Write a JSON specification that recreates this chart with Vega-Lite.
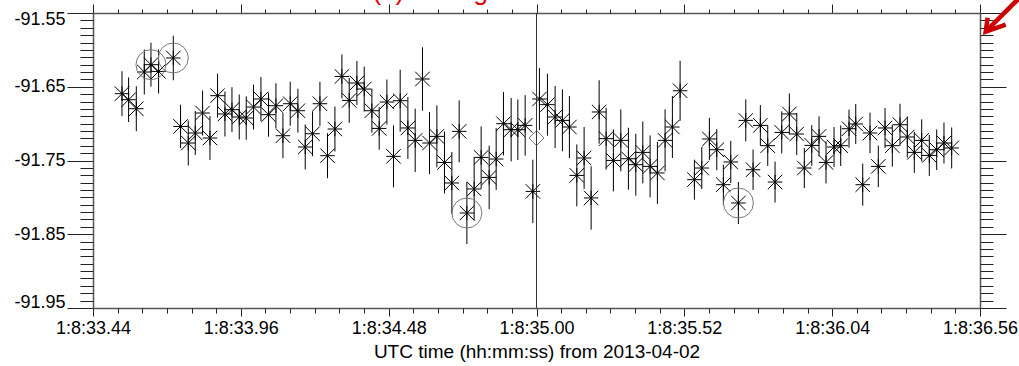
{
  "$schema": "https://vega.github.io/schema/vega-lite/v6.json",
  "width": 887,
  "height": 295,
  "autosize": {"type": "none"},
  "padding": {"left": 93, "top": 13, "right": 39, "bottom": 58},
  "background": "white",
  "config": {
    "view": {"stroke": null},
    "axis": {"grid": false, "labelFont": "Liberation Sans", "titleFont": "Liberation Sans", "labelColor": "#000", "titleColor": "#000", "tickColor": "#222", "domainColor": "#555", "domainWidth": 1.5, "labelOverlap": false}
  },
  "datasets": {
    "pts": [
      {"t":33.5420,"v":-91.6594,"lo":-91.6899,"hi":-91.6289},
      {"t":33.5652,"v":-91.6676,"lo":-91.6978,"hi":-91.6374},
      {"t":33.5923,"v":-91.6798,"lo":-91.7103,"hi":-91.6493},
      {"t":33.6204,"v":-91.6300,"lo":-91.6605,"hi":-91.5995},
      {"t":33.6439,"v":-91.6201,"lo":-91.6499,"hi":-91.5903},
      {"t":33.6707,"v":-91.6292,"lo":-91.6590,"hi":-91.5994},
      {"t":33.7224,"v":-91.6110,"lo":-91.6412,"hi":-91.5808},
      {"t":33.7480,"v":-91.7038,"lo":-91.7332,"hi":-91.6744},
      {"t":33.7751,"v":-91.7263,"lo":-91.7568,"hi":-91.6958},
      {"t":33.7997,"v":-91.7127,"lo":-91.7425,"hi":-91.6829},
      {"t":33.8254,"v":-91.6856,"lo":-91.7161,"hi":-91.6551},
      {"t":33.8514,"v":-91.7195,"lo":-91.7493,"hi":-91.6897},
      {"t":33.8781,"v":-91.6621,"lo":-91.6919,"hi":-91.6323},
      {"t":33.9041,"v":-91.6869,"lo":-91.7174,"hi":-91.6564},
      {"t":33.9288,"v":-91.6811,"lo":-91.7116,"hi":-91.6506},
      {"t":33.9544,"v":-91.6910,"lo":-91.7215,"hi":-91.6605},
      {"t":33.9790,"v":-91.6924,"lo":-91.7218,"hi":-91.6630},
      {"t":34.0047,"v":-91.6775,"lo":-91.7080,"hi":-91.6470},
      {"t":34.0307,"v":-91.6666,"lo":-91.6964,"hi":-91.6368},
      {"t":34.0574,"v":-91.6879,"lo":-91.7177,"hi":-91.6581},
      {"t":34.0835,"v":-91.6757,"lo":-91.7062,"hi":-91.6452},
      {"t":34.1081,"v":-91.7164,"lo":-91.7469,"hi":-91.6859},
      {"t":34.1337,"v":-91.6730,"lo":-91.7028,"hi":-91.6432},
      {"t":34.1608,"v":-91.6825,"lo":-91.7123,"hi":-91.6527},
      {"t":34.1865,"v":-91.7317,"lo":-91.7622,"hi":-91.7012},
      {"t":34.2122,"v":-91.7137,"lo":-91.7442,"hi":-91.6832},
      {"t":34.2382,"v":-91.6730,"lo":-91.7028,"hi":-91.6432},
      {"t":34.2649,"v":-91.7435,"lo":-91.7740,"hi":-91.7130},
      {"t":34.2909,"v":-91.7073,"lo":-91.7378,"hi":-91.6768},
      {"t":34.3155,"v":-91.6360,"lo":-91.6658,"hi":-91.6062},
      {"t":34.3412,"v":-91.6685,"lo":-91.6990,"hi":-91.6380},
      {"t":34.3683,"v":-91.6449,"lo":-91.6747,"hi":-91.6151},
      {"t":34.3940,"v":-91.6531,"lo":-91.6836,"hi":-91.6226},
      {"t":34.4210,"v":-91.6825,"lo":-91.7123,"hi":-91.6527},
      {"t":34.4467,"v":-91.7065,"lo":-91.7354,"hi":-91.6776},
      {"t":34.4738,"v":-91.6707,"lo":-91.7012,"hi":-91.6402},
      {"t":34.4970,"v":-91.7444,"lo":-91.7864,"hi":-91.7024},
      {"t":34.5205,"v":-91.6689,"lo":-91.7109,"hi":-91.6269},
      {"t":34.5476,"v":-91.7059,"lo":-91.7479,"hi":-91.6639},
      {"t":34.5733,"v":-91.7227,"lo":-91.7657,"hi":-91.6797},
      {"t":34.5989,"v":-91.6395,"lo":-91.6825,"hi":-91.5965},
      {"t":34.6236,"v":-91.7263,"lo":-91.7683,"hi":-91.6843},
      {"t":34.6496,"v":-91.7173,"lo":-91.7593,"hi":-91.6753},
      {"t":34.6763,"v":-91.7526,"lo":-91.7946,"hi":-91.7106},
      {"t":34.7023,"v":-91.7805,"lo":-91.8225,"hi":-91.7385},
      {"t":34.7280,"v":-91.7105,"lo":-91.7525,"hi":-91.6685},
      {"t":34.7551,"v":-91.8212,"lo":-91.8632,"hi":-91.7792},
      {"t":34.7807,"v":-91.7886,"lo":-91.8316,"hi":-91.7456},
      {"t":34.8053,"v":-91.7458,"lo":-91.7878,"hi":-91.7038},
      {"t":34.8335,"v":-91.7729,"lo":-91.8159,"hi":-91.7299},
      {"t":34.8581,"v":-91.7480,"lo":-91.7900,"hi":-91.7060},
      {"t":34.8838,"v":-91.7001,"lo":-91.7431,"hi":-91.6571},
      {"t":34.9108,"v":-91.7082,"lo":-91.7512,"hi":-91.6652},
      {"t":34.9344,"v":-91.7082,"lo":-91.7492,"hi":-91.6672},
      {"t":34.9601,"v":-91.7024,"lo":-91.7434,"hi":-91.6614},
      {"t":34.9871,"v":-91.7919,"lo":-91.8349,"hi":-91.7489},
      {"t":35.0103,"v":-91.6666,"lo":-91.7086,"hi":-91.6246},
      {"t":35.0385,"v":-91.6743,"lo":-91.7163,"hi":-91.6323},
      {"t":35.0655,"v":-91.6910,"lo":-91.7330,"hi":-91.6490},
      {"t":35.0912,"v":-91.6956,"lo":-91.7376,"hi":-91.6536},
      {"t":35.1158,"v":-91.7046,"lo":-91.7466,"hi":-91.6626},
      {"t":35.1418,"v":-91.7702,"lo":-91.8122,"hi":-91.7282},
      {"t":35.1675,"v":-91.7466,"lo":-91.7886,"hi":-91.7046},
      {"t":35.1921,"v":-91.8008,"lo":-91.8438,"hi":-91.7578},
      {"t":35.2203,"v":-91.6842,"lo":-91.7272,"hi":-91.6412},
      {"t":35.2449,"v":-91.7204,"lo":-91.7624,"hi":-91.6784},
      {"t":35.2705,"v":-91.7499,"lo":-91.7919,"hi":-91.7079},
      {"t":35.2966,"v":-91.7227,"lo":-91.7647,"hi":-91.6807},
      {"t":35.3233,"v":-91.7476,"lo":-91.7896,"hi":-91.7056},
      {"t":35.3493,"v":-91.7557,"lo":-91.7977,"hi":-91.7137},
      {"t":35.3739,"v":-91.7390,"lo":-91.7810,"hi":-91.6970},
      {"t":35.3996,"v":-91.7580,"lo":-91.8000,"hi":-91.7160},
      {"t":35.4253,"v":-91.7669,"lo":-91.8089,"hi":-91.7249},
      {"t":35.4523,"v":-91.7227,"lo":-91.7647,"hi":-91.6807},
      {"t":35.4780,"v":-91.7046,"lo":-91.7466,"hi":-91.6626},
      {"t":35.5051,"v":-91.6554,"lo":-91.6961,"hi":-91.6147},
      {"t":35.5554,"v":-91.7760,"lo":-91.8031,"hi":-91.7489},
      {"t":35.5814,"v":-91.7602,"lo":-91.7887,"hi":-91.7317},
      {"t":35.6081,"v":-91.7208,"lo":-91.7493,"hi":-91.6923},
      {"t":35.6341,"v":-91.7354,"lo":-91.7632,"hi":-91.7076},
      {"t":35.6573,"v":-91.7828,"lo":-91.8099,"hi":-91.7557},
      {"t":35.6833,"v":-91.7520,"lo":-91.7805,"hi":-91.7235},
      {"t":35.7101,"v":-91.8076,"lo":-91.8361,"hi":-91.7791},
      {"t":35.7361,"v":-91.6956,"lo":-91.7241,"hi":-91.6671},
      {"t":35.7618,"v":-91.7625,"lo":-91.7900,"hi":-91.7350},
      {"t":35.7874,"v":-91.7024,"lo":-91.7299,"hi":-91.6749},
      {"t":35.8134,"v":-91.7299,"lo":-91.7574,"hi":-91.7024},
      {"t":35.8391,"v":-91.7792,"lo":-91.8070,"hi":-91.7514},
      {"t":35.8627,"v":-91.7119,"lo":-91.7404,"hi":-91.6834},
      {"t":35.8894,"v":-91.6869,"lo":-91.7147,"hi":-91.6591},
      {"t":35.9154,"v":-91.7141,"lo":-91.7426,"hi":-91.6856},
      {"t":35.9421,"v":-91.7602,"lo":-91.7873,"hi":-91.7331},
      {"t":35.9682,"v":-91.7295,"lo":-91.7570,"hi":-91.7020},
      {"t":35.9938,"v":-91.7173,"lo":-91.7444,"hi":-91.6902},
      {"t":36.0184,"v":-91.7526,"lo":-91.7811,"hi":-91.7241},
      {"t":36.0466,"v":-91.7317,"lo":-91.7588,"hi":-91.7046},
      {"t":36.0701,"v":-91.7299,"lo":-91.7574,"hi":-91.7024},
      {"t":36.0993,"v":-91.7069,"lo":-91.7327,"hi":-91.6811},
      {"t":36.1229,"v":-91.7005,"lo":-91.7276,"hi":-91.6734},
      {"t":36.1475,"v":-91.7828,"lo":-91.8113,"hi":-91.7543},
      {"t":36.1731,"v":-91.7127,"lo":-91.7402,"hi":-91.6852},
      {"t":36.2023,"v":-91.7580,"lo":-91.7861,"hi":-91.7299},
      {"t":36.2259,"v":-91.7059,"lo":-91.7330,"hi":-91.6788},
      {"t":36.2516,"v":-91.7299,"lo":-91.7584,"hi":-91.7014},
      {"t":36.2786,"v":-91.7015,"lo":-91.7300,"hi":-91.6730},
      {"t":36.3043,"v":-91.7181,"lo":-91.7459,"hi":-91.6903},
      {"t":36.3289,"v":-91.7390,"lo":-91.7668,"hi":-91.7112},
      {"t":36.3549,"v":-91.7227,"lo":-91.7512,"hi":-91.6942},
      {"t":36.3817,"v":-91.7431,"lo":-91.7709,"hi":-91.7153},
      {"t":36.4077,"v":-91.7354,"lo":-91.7629,"hi":-91.7079},
      {"t":36.4333,"v":-91.7263,"lo":-91.7541,"hi":-91.6985},
      {"t":36.4604,"v":-91.7330,"lo":-91.7608,"hi":-91.7052}
    ],
    "circ": [
      {"t":33.6439,"v":-91.6201},
      {"t":33.7224,"v":-91.6110},
      {"t":34.7551,"v":-91.8212},
      {"t":35.7101,"v":-91.8076}
    ],
    "dia": [
      {"t":35.0,"v":-91.7195}
    ]
  },
  "resolve": {"axis": {"x": "independent", "y": "independent"}},
  "layer": [
    {
      "data": {"name": "pts"},
      "mark": {"type": "rule", "color": "#000", "strokeWidth": 1},
      "encoding": {
        "x": {"field": "t", "type": "quantitative", "scale": {"domain": [33.44, 36.56], "nice": false, "zero": false},
          "axis": {"orient": "bottom", "values": [33.44, 33.96, 34.48, 35.0, 35.52, 36.04, 36.56], "labelExpr": "'1:8:' + format(datum.value, '.2f')", "tickSize": 8, "labelPadding": 3, "labelFlush": false, "labelFontSize": 18, "title": "UTC time (hh:mm:ss) from 2013-04-02", "titleFontSize": 19, "titleFontWeight": "normal", "titlePadding": 5}},
        "y": {"field": "lo", "type": "quantitative", "scale": {"domain": [-91.95, -91.55], "nice": false, "zero": false},
          "axis": {"orient": "left", "values": [-91.95, -91.85, -91.75, -91.65, -91.55], "labelExpr": "'-' + format(-datum.value, '.2f')", "tickSize": 26, "labelPadding": 2, "labelFlush": true, "labelFlushOffset": 3, "labelFontSize": 18, "title": null}},
        "y2": {"field": "hi"}
      }
    },
    {
      "data": {"name": "pts"},
      "mark": {"type": "point", "shape": "M-1,0L1,0M0,-1L0,1M-1,-1L1,1M-1,1L1,-1", "size": 210, "filled": false, "color": "#000", "strokeWidth": 1, "opacity": 1},
      "encoding": {
        "x": {"field": "t", "type": "quantitative", "scale": {"domain": [33.44, 36.56], "nice": false, "zero": false},
          "axis": {"orient": "bottom", "values": [33.52667,33.61333,33.7,33.78667,33.87333,34.04667,34.13333,34.22,34.30667,34.39333,34.56667,34.65333,34.74,34.82667,34.91333,35.08667,35.17333,35.26,35.34667,35.43333,35.60667,35.69333,35.78,35.86667,35.95333,36.12667,36.21333,36.3,36.38667,36.47333], "tickSize": 5, "labels": false, "domain": false, "title": null}},
        "y": {"field": "v", "type": "quantitative", "scale": {"domain": [-91.95, -91.55], "nice": false, "zero": false},
          "axis": {"orient": "left", "values": [-91.94,-91.93,-91.92,-91.91,-91.90,-91.89,-91.88,-91.87,-91.86,-91.84,-91.83,-91.82,-91.81,-91.80,-91.79,-91.78,-91.77,-91.76,-91.74,-91.73,-91.72,-91.71,-91.70,-91.69,-91.68,-91.67,-91.66,-91.64,-91.63,-91.62,-91.61,-91.60,-91.59,-91.58,-91.57,-91.56], "tickSize": 13, "labels": false, "domain": false, "title": null}}
      }
    },
    {
      "data": {"name": "circ"},
      "mark": {"type": "point", "shape": "circle", "size": 900, "filled": false, "color": "#777", "strokeWidth": 1, "opacity": 1},
      "encoding": {
        "x": {"field": "t", "type": "quantitative", "scale": {"domain": [33.44, 36.56], "nice": false, "zero": false},
          "axis": {"orient": "top", "values": [33.44, 33.96, 34.48, 35.0, 35.52, 36.04, 36.56], "tickSize": 9, "labels": false, "title": null}},
        "y": {"field": "v", "type": "quantitative", "scale": {"domain": [-91.95, -91.55], "nice": false, "zero": false},
          "axis": {"orient": "right", "values": [-91.95, -91.85, -91.75, -91.65, -91.55], "tickSize": 26, "labels": false, "title": null}}
      }
    },
    {
      "data": {"name": "dia"},
      "mark": {"type": "point", "shape": "diamond", "size": 225, "filled": false, "color": "#777", "strokeWidth": 1, "opacity": 1},
      "encoding": {
        "x": {"field": "t", "type": "quantitative", "scale": {"domain": [33.44, 36.56], "nice": false, "zero": false},
          "axis": {"orient": "top", "values": [33.52667,33.61333,33.7,33.78667,33.87333,34.04667,34.13333,34.22,34.30667,34.39333,34.56667,34.65333,34.74,34.82667,34.91333,35.08667,35.17333,35.26,35.34667,35.43333,35.60667,35.69333,35.78,35.86667,35.95333,36.12667,36.21333,36.3,36.38667,36.47333], "tickSize": 4, "labels": false, "domain": false, "title": null}},
        "y": {"field": "v", "type": "quantitative", "scale": {"domain": [-91.95, -91.55], "nice": false, "zero": false},
          "axis": {"orient": "right", "values": [-91.94,-91.93,-91.92,-91.91,-91.90,-91.89,-91.88,-91.87,-91.86,-91.84,-91.83,-91.82,-91.81,-91.80,-91.79,-91.78,-91.77,-91.76,-91.74,-91.73,-91.72,-91.71,-91.70,-91.69,-91.68,-91.67,-91.66,-91.64,-91.63,-91.62,-91.61,-91.60,-91.59,-91.58,-91.57,-91.56], "tickSize": 13, "labels": false, "domain": false, "title": null}}
      }
    },
    {
      "data": {"values": [{}]},
      "mark": {"type": "rule", "color": "#333", "strokeWidth": 1},
      "encoding": {
        "x": {"datum": 35.0, "type": "quantitative", "scale": {"domain": [33.44, 36.56], "nice": false, "zero": false}, "axis": null}
      }
    },
    {
      "data": {"values": [{}]},
      "mark": {"type": "text", "text": "(b) Timing", "color": "#e00000", "font": "Liberation Sans", "fontSize": 26, "align": "center", "baseline": "alphabetic"},
      "encoding": {
        "x": {"datum": 34.626, "type": "quantitative", "scale": {"domain": [33.44, 36.56], "nice": false, "zero": false}, "axis": null},
        "y": {"datum": -91.532, "type": "quantitative", "scale": {"domain": [-91.95, -91.55], "nice": false, "zero": false}, "axis": null}
      }
    },
    {
      "data": {"values": [{}]},
      "mark": {"type": "rule", "color": "#cc0000", "strokeWidth": 4.5, "strokeCap": "butt"},
      "encoding": {
        "x": {"datum": 36.71, "type": "quantitative", "scale": {"domain": [33.44, 36.56], "nice": false, "zero": false}, "axis": null},
        "y": {"datum": -91.525, "type": "quantitative", "scale": {"domain": [-91.95, -91.55], "nice": false, "zero": false}, "axis": null},
        "x2": {"datum": 36.584},
        "y2": {"datum": -91.5735}
      }
    },
    {
      "data": {"values": [{}]},
      "mark": {"type": "point", "shape": "M0.14,-1L0,0L1.43,-0.5", "size": 784, "filled": false, "color": "#cc0000", "strokeWidth": 4.5, "strokeJoin": "miter", "opacity": 1},
      "encoding": {
        "x": {"datum": 36.580, "type": "quantitative", "scale": {"domain": [33.44, 36.56], "nice": false, "zero": false}, "axis": null},
        "y": {"datum": -91.5754, "type": "quantitative", "scale": {"domain": [-91.95, -91.55], "nice": false, "zero": false}, "axis": null}
      }
    }
  ]
}
